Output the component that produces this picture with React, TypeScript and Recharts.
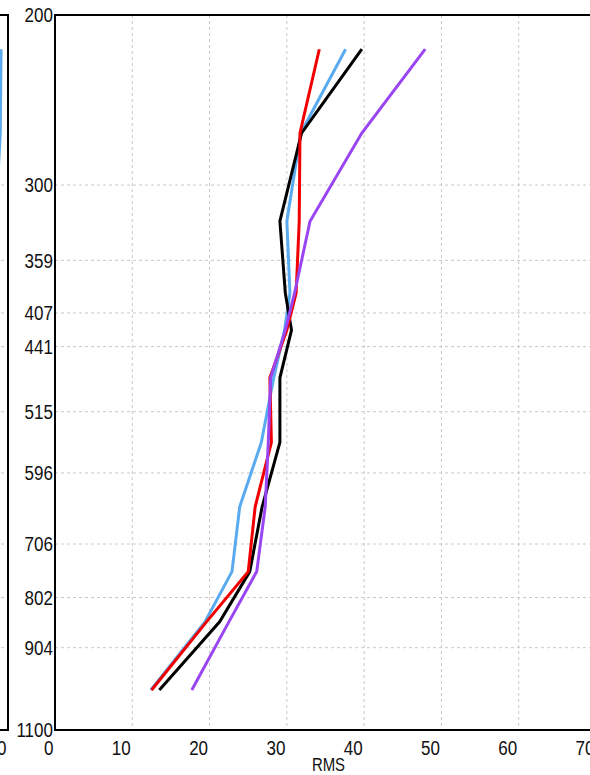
import React from "react";
import { LineChart, Line, XAxis, YAxis, CartesianGrid, ReferenceArea } from "recharts";

// pressure levels (hPa) of the profile points, top to bottom
const levels = [217, 265, 327, 388, 424, 475, 554, 646, 754, 850, 1000];

// RMS per level, one array per run
const blackRms = [39.7, 31.9, 29.1, 29.8, 30.6, 29.1, 29.1, 26.8, 25.2, 21.3, 13.5];
const redRms = [34.2, 31.7, 31.6, 31.2, 30.0, 27.8, 28.0, 25.9, 25.0, 19.6, 12.5];
const blueRms = [37.6, 31.8, 30.0, 30.4, 29.7, 28.3, 26.7, 23.9, 22.9, 19.4, 12.4];
const purpleRms = [47.9, 39.7, 33.0, 31.0, 29.8, 27.9, 27.6, 27.2, 26.1, 22.5, 17.7];

// the neighbouring panel on the left, only its right edge is in view
const leftLevels = [217, 265, 327];
const leftBlueRms = [69.1, 69.0, 68.4];

const pressureTicks = [200, 300, 359, 407, 441, 515, 596, 706, 802, 904, 1100];
const rmsTicks = [0, 10, 20, 30, 40, 50, 60, 70];

const FONT = "'Liberation Sans', Arial, Helvetica, sans-serif";
const NARROW = 0.83; // labels in the original are a condensed face
const W = 640;
const H = 775;

const rows = levels.map((p, i) => ({
  p,
  black: blackRms[i],
  red: redRms[i],
  blue: blueRms[i],
  purple: purpleRms[i],
}));

const leftRows = leftLevels.map((p, i) => ({ p, blue: leftBlueRms[i] }));

const XTick = (props: any) => {
  const { x, y, payload } = props;
  return (
    <text
      transform={`translate(${x - 1.5},${y + 25}) scale(${NARROW},1)`}
      textAnchor="end"
      fill="#111"
      fontSize={20.5}
      fontFamily={FONT}
    >
      {payload.value}
    </text>
  );
};

const YTick = (props: any) => {
  const { x, y, payload } = props;
  return (
    <text
      transform={`translate(${x - 2},${y}) scale(${NARROW},1)`}
      dy="0.36em"
      textAnchor="end"
      fill="#111"
      fontSize={20.5}
      fontFamily={FONT}
    >
      {payload.value}
    </text>
  );
};

const RmsLabel = (props: any) => {
  const vb = props.viewBox || {};
  const cx = vb.x + vb.width / 2 + 3;
  return (
    <text
      transform={`translate(${cx},${vb.y + 41}) scale(${NARROW},1)`}
      textAnchor="middle"
      fill="#111"
      fontSize={18}
      fontFamily={FONT}
    >
      RMS
    </text>
  );
};

const Panel = ({ data, children, showLabel }: { data: any[]; children: React.ReactNode; showLabel: boolean }) => (
  <LineChart
    width={W}
    height={H}
    data={data}
    layout="vertical"
    margin={{ top: 15, right: 44, bottom: 0, left: 5 }}
  >
    <CartesianGrid stroke="#c8c8c8" strokeDasharray="3 3" strokeWidth={1} />
    <XAxis
      type="number"
      domain={[0, 70]}
      ticks={rmsTicks}
      interval={0}
      allowDataOverflow
      height={45}
      tickSize={0}
      tickMargin={0}
      tickLine={false}
      axisLine={{ stroke: "#000", strokeWidth: 2 }}
      tick={<XTick />}
      label={showLabel ? <RmsLabel /> : undefined}
    />
    <YAxis
      type="number"
      dataKey="p"
      scale="log"
      domain={[200, 1100]}
      ticks={pressureTicks}
      interval={0}
      allowDataOverflow
      width={50}
      tickSize={0}
      tickMargin={0}
      tickLine={false}
      axisLine={{ stroke: "#000", strokeWidth: 2 }}
      tick={<YTick />}
    />
    {children}
    <ReferenceArea x1={0} x2={70} y1={200} y2={1100} fill="none" stroke="#000" strokeWidth={2} ifOverflow="visible" />
  </LineChart>
);

export default function App() {
  return (
    <div
      style={{
        position: "fixed",
        left: 0,
        top: 0,
        width: 590,
        height: 775,
        overflow: "hidden",
        background: "#fff",
      }}
    >
      <div style={{ position: "absolute", left: -588, top: 0 }}>
        <Panel data={leftRows} showLabel={false}>
          <Line dataKey="blue" stroke="#5aaaf0" strokeWidth={3} dot={false} isAnimationActive={false} />
        </Panel>
      </div>
      <div style={{ position: "absolute", left: 0, top: 0 }}>
        <Panel data={rows} showLabel>
          <Line dataKey="blue" stroke="#5aaaf0" strokeWidth={3} dot={false} isAnimationActive={false} />
          <Line dataKey="black" stroke="#000" strokeWidth={3} dot={false} isAnimationActive={false} />
          <Line dataKey="red" stroke="#f00000" strokeWidth={3} dot={false} isAnimationActive={false} />
          <Line dataKey="purple" stroke="#9a45f2" strokeWidth={3} dot={false} isAnimationActive={false} />
        </Panel>
      </div>
    </div>
  );
}
